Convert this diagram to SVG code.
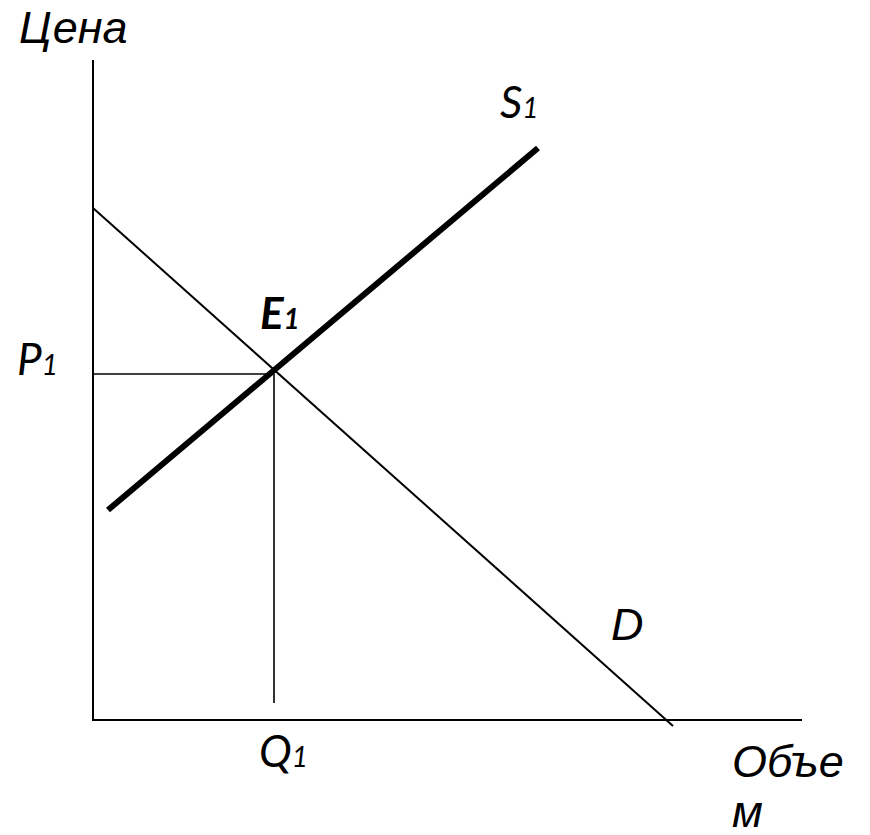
<svg xmlns="http://www.w3.org/2000/svg" width="870" height="835" viewBox="0 0 870 835">
<style>
.ax{stroke:#000;stroke-width:2;fill:none}
.thin{stroke:#000;stroke-width:1.6;fill:none}
.sup{stroke:#000;stroke-width:6;fill:none}
.big{font-family:"Liberation Sans",Arial,sans-serif;font-style:italic;font-size:45px;fill:#000}
.lab{font-family:Lato,"Open Sans",sans-serif;font-style:italic;font-size:44px;fill:#000}
.sub{font-size:28px}
</style>
<rect width="870" height="835" fill="#fff"/>
<g id="connectors">
<line class="ax" x1="93" y1="60" x2="93" y2="721"/>
<line class="ax" x1="93" y1="720" x2="802" y2="720"/>
<line class="ax" x1="93" y1="208" x2="673" y2="726"/>
<line class="thin" x1="93" y1="374" x2="273" y2="374"/>
<line class="thin" x1="274" y1="374" x2="274" y2="703"/>
<line class="sup" x1="108" y1="510" x2="538" y2="148"/>
</g>
<g id="label-price"><text class="big" x="19" y="43">Цена</text></g>
<g id="label-S1"><text class="lab" x="500" y="118">S<tspan class="sub">1</tspan></text></g>
<g id="label-E1"><text class="lab" x="260" y="329" font-weight="bold">E<tspan class="sub">1</tspan></text></g>
<g id="label-P1"><text class="lab" x="17" y="375">P<tspan class="sub">1</tspan></text></g>
<g id="label-D"><text class="big" x="611" y="640">D</text></g>
<g id="label-Q1"><text class="lab" x="259" y="767">Q<tspan class="sub">1</tspan></text></g>
<g id="label-volume"><text class="big" x="732" y="777">Объе</text><text class="big" x="732" y="827">м</text></g>
</svg>
